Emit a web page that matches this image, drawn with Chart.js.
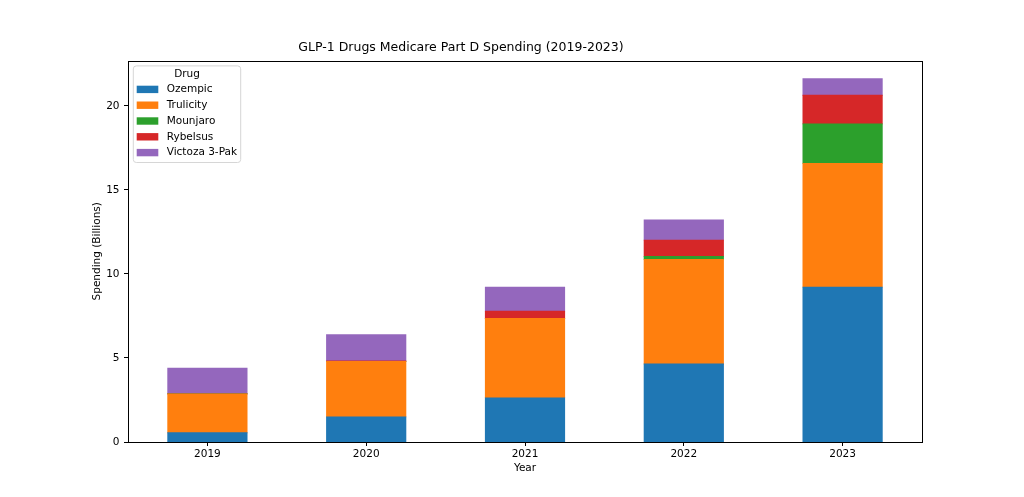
<!DOCTYPE html>
<html>
<head>
<meta charset="utf-8">
<script src="https://cdn.jsdelivr.net/npm/chart.js@4"></script>
<style>
  html, body { margin: 0; padding: 0; background: #fff; }
  #wrap { width: 1024px; height: 497px; }
</style>
</head>
<body>
<div id="wrap"><canvas id="c" width="1024" height="497"></canvas></div>
<script>
const years = ['2019', '2020', '2021', '2022', '2023'];
const ozempic   = [0.55, 1.50, 2.63, 4.64, 9.21];
const trulicity = [2.31, 3.30, 4.72, 6.23, 7.36];
const mounjaro  = [0, 0, 0, 0.17, 2.36];
const rybelsus  = [0, 0.03, 0.43, 0.97, 1.70];
const victoza   = [1.53, 1.56, 1.43, 1.21, 0.98];
const seriesNames = ['Ozempic', 'Trulicity', 'Mounjaro', 'Rybelsus', 'Victoza 3-Pak'];
const seriesColors = ['#1f77b4', '#ff7f0e', '#2ca02c', '#d62728', '#9467bd'];
const yTicks = [0, 5, 10, 15, 20];
const yMax = 22.69;

const FONT = 'DejaVu Sans';
const seriesData = [ozempic, trulicity, mounjaro, rybelsus, victoza];

const frameAndLegend = {
  id: 'frameAndLegend',
  afterDatasetsDraw(chart) {
    const ctx = chart.ctx;
    const a = chart.chartArea;
    ctx.save();
    ctx.strokeStyle = '#000';
    ctx.lineWidth = 1;
    ctx.strokeRect(Math.round(a.left) + 0.5, Math.round(a.top) + 0.5,
                   Math.round(a.right - a.left), Math.round(a.bottom - a.top));
    // legend
    const bx = a.left + 5.3, by = a.top + 5.3, bw = 107.4, bh = 96.6;
    ctx.beginPath();
    const r = 3;
    ctx.moveTo(bx + r, by);
    ctx.lineTo(bx + bw - r, by);
    ctx.quadraticCurveTo(bx + bw, by, bx + bw, by + r);
    ctx.lineTo(bx + bw, by + bh - r);
    ctx.quadraticCurveTo(bx + bw, by + bh, bx + bw - r, by + bh);
    ctx.lineTo(bx + r, by + bh);
    ctx.quadraticCurveTo(bx, by + bh, bx, by + bh - r);
    ctx.lineTo(bx, by + r);
    ctx.quadraticCurveTo(bx, by, bx + r, by);
    ctx.closePath();
    ctx.fillStyle = 'rgba(255,255,255,0.8)';
    ctx.fill();
    ctx.strokeStyle = '#d6d6d6';
    ctx.lineWidth = 1;
    ctx.stroke();
    ctx.fillStyle = '#000';
    ctx.font = '10.5px "' + FONT + '"';
    ctx.textAlign = 'center';
    ctx.textBaseline = 'middle';
    ctx.fillText('Drug', bx + bw / 2, by + 8.5);
    ctx.textAlign = 'left';
    chart.data.datasets.forEach((ds, i) => {
      const cy = by + 23.5 + i * 15.8;
      ctx.fillStyle = ds.backgroundColor;
      ctx.fillRect(bx + 3.4, cy - 3.7, 21.6, 7.4);
      ctx.fillStyle = '#000';
      ctx.fillText(ds.label, bx + 33.4, cy);
    });
    ctx.restore();
  }
};

new Chart(document.getElementById('c'), {
  type: 'bar',
  data: {
    labels: years,
    datasets: seriesNames.map((n, i) => ({
      label: n,
      data: seriesData[i],
      backgroundColor: seriesColors[i],
      borderWidth: 0,
      inflateAmount: 0.4,
      categoryPercentage: 1.0,
      barPercentage: 0.5
    }))
  },
  options: {
    responsive: false,
    animation: false,
    devicePixelRatio: 1,
    layout: { padding: { left: 0, right: 102, top: 0, bottom: 0 } },
    plugins: {
      legend: { display: false },
      tooltip: { enabled: false },
      title: {
        display: true,
        text: 'GLP-1 Drugs Medicare Part D Spending (2019-2023)',
        color: '#000',
        font: { family: FONT, size: 12.5, weight: 'normal', lineHeight: 1.2 },
        padding: { top: 40.4, bottom: 5.2 }
      }
    },
    scales: {
      x: {
        stacked: true,
        offset: true,
        grid: { display: true, offset: false, drawOnChartArea: false, drawTicks: true, tickLength: 4, color: '#000' },
        border: { display: false },
        ticks: { color: '#000', font: { family: FONT, size: 10.5 }, padding: 2, maxRotation: 0 },
        title: { display: true, text: 'Year', color: '#000',
                 font: { family: FONT, size: 10.5, lineHeight: 1.2 }, padding: { top: 0, bottom: 22.7 } },
        afterFit(scale) { scale.height = 55; }
      },
      y: {
        stacked: true,
        min: 0,
        max: yMax,
        grid: { display: true, drawOnChartArea: false, drawTicks: true, tickLength: 4, color: '#000' },
        border: { display: false },
        afterBuildTicks(scale) { scale.ticks = yTicks.map(v => ({ value: v })); },
        ticks: { color: '#000', font: { family: FONT, size: 10.5 }, padding: 4.5, includeBounds: false },
        title: { display: true, text: 'Spending (Billions)', color: '#000',
                 font: { family: FONT, size: 10.5, lineHeight: 1.2 }, padding: { top: 91, bottom: 0 } },
        afterFit(scale) { scale.width = 128; }
      }
    }
  },
  plugins: [frameAndLegend]
});
</script>
</body>
</html>
